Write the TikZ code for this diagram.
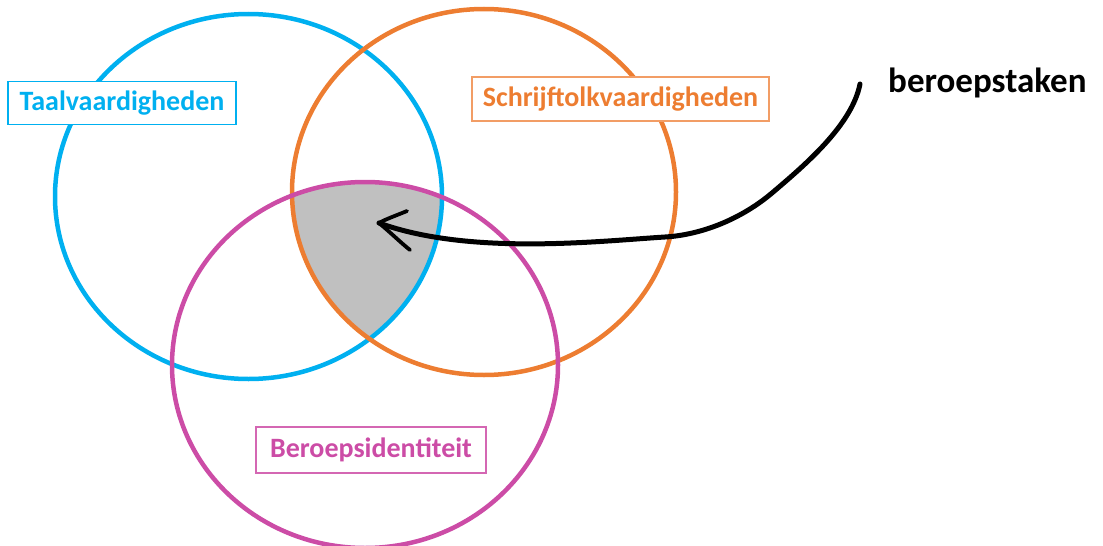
\documentclass[tikz,border=0pt]{standalone}
\usepackage{fontspec}
\setmainfont{Carlito}
\definecolor{cblue}{RGB}{0,176,240}
\definecolor{corange}{RGB}{237,125,49}
\definecolor{cpink}{RGB}{204,76,166}
\definecolor{cgray}{RGB}{192,192,192}
\begin{document}
\begin{tikzpicture}[x=1pt,y=-1pt,
  ring/.style={line width=4.5pt},
  lbl/.style={draw, fill=white, line width=1.3pt, inner sep=0pt, font=\fontsize{28}{32}\selectfont\bfseries},
]
\useasboundingbox (0,0) rectangle (1103,546);
% intersection of all three
\begin{scope}
  \clip (248.5,196.5) ellipse [x radius=193.5pt, y radius=182.5pt];
  \clip (484,192) ellipse [x radius=192pt, y radius=183pt];
  \fill[cgray] (365,365) ellipse [x radius=193pt, y radius=183pt];
\end{scope}
% circles
\draw[ring, cblue] (248.5,196.5) ellipse [x radius=193.5pt, y radius=182.5pt];
\draw[ring, corange] (484,192) ellipse [x radius=192pt, y radius=183pt];
\draw[ring, cpink] (365,365) ellipse [x radius=193pt, y radius=183pt];
% labels
\node[lbl, text=cblue, draw=cblue, minimum width=228pt, minimum height=43pt] (taal) at (122,103) {Taalvaardigheden};
\node[lbl, text=corange, draw=corange!75, minimum width=297pt, minimum height=44pt] (schrijf) at (620.5,99) {Schrijftolkvaardigheden};
\node[lbl, text=cpink, draw=cpink!85, minimum width=230pt, minimum height=46pt] (beroeps) at (371,450) {Beroepsidentiteit};
\node[anchor=base west, inner sep=0pt, font=\fontsize{35}{39}\selectfont\bfseries] (bt) at (888,92) {beroepstaken};
% arrow
\coordinate (start) at (860,84);
\coordinate (tip) at (379,223);
\draw[line width=5pt, line cap=round, line join=round] (start) .. controls (852,125) and (805,165) .. (772,193) .. controls (740,220) and (700,235) .. (665,237) .. controls (600,241) and (470,256) .. (tip);
\draw[line width=3.8pt, line cap=round, line join=round] (407,211) .. controls (395,216) and (386,219) .. (tip) .. controls (390,232) and (400,242) .. (410,250);
\end{tikzpicture}
\end{document}
